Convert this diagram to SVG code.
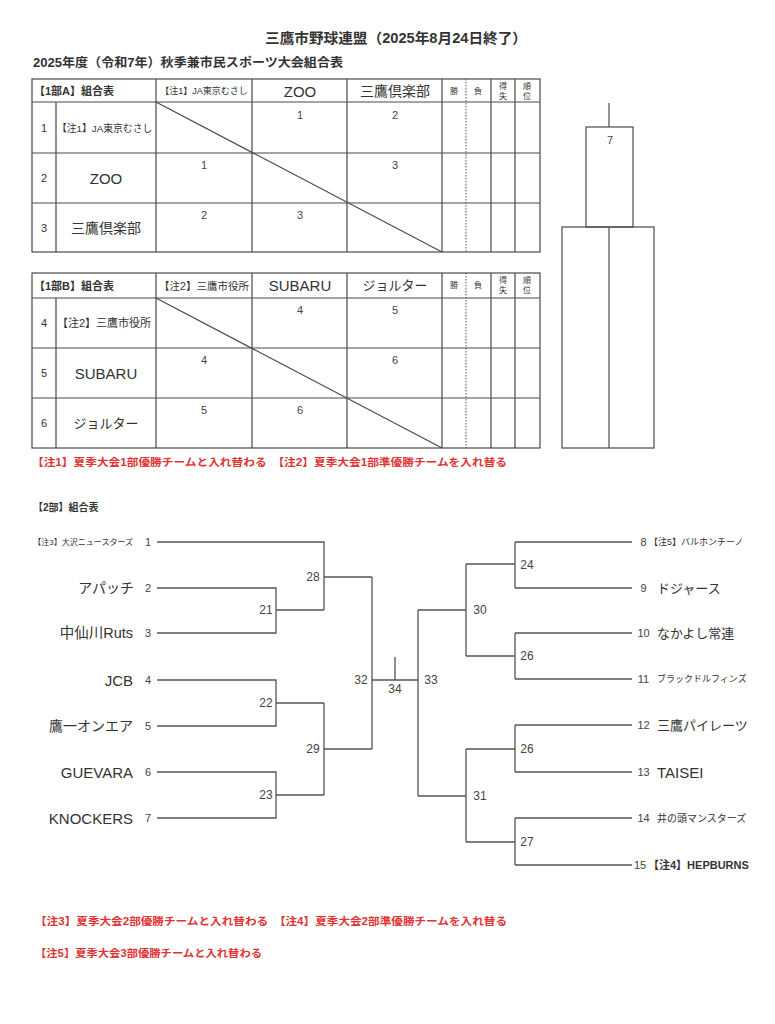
<svg xmlns="http://www.w3.org/2000/svg" width="775" height="1024" viewBox="0 0 775 1024">
<style>
text{font-family:"Liberation Sans","Noto Sans CJK JP",sans-serif;fill:#333;dominant-baseline:central}
.b{font-weight:bold}
.red{fill:#e03434;font-weight:bold;font-size:10.5px}
.m{text-anchor:middle}
.e{text-anchor:end}
.ln{fill:none;stroke:#4a4a4a;stroke-width:1.2}
.dot{fill:none;stroke:#555;stroke-width:1;stroke-dasharray:1.5 1.5}
.br{fill:none;stroke:#555;stroke-width:1.3}
.cn{font-size:11px;fill:#444}
.lb{font-size:12px;fill:#444}
.sm{font-size:9px}
</style>
<rect width="775" height="1024" fill="#fff"/>

<g id="title">
<text x="265" y="38" class="b" font-size="14" textLength="262" lengthAdjust="spacingAndGlyphs">三鷹市野球連盟（2025年8月24日終了）</text>
<text x="33" y="63" class="b" font-size="12.5" textLength="310" lengthAdjust="spacingAndGlyphs">2025年度（令和7年）秋季兼市民スポーツ大会組合表</text>
</g>

<g id="tableA">
<rect x="32" y="79" width="508" height="173" class="ln"/>
<path class="ln" d="M32 102H540M32 153H540M32 203H540M56 102V252M156 79V252M252 79V252M347 79V252M442 79V252M491 79V252M515 79V252"/>
<path class="dot" d="M466 79V252"/>
<path class="ln" d="M156 102L442 252"/>
<text x="34" y="91" class="b" font-size="11">【1部A】組合表</text>
<text x="204" y="91" class="m" font-size="9">【注1】JA東京むさし</text>
<text x="300" y="91" class="m" font-size="15">ZOO</text>
<text x="395" y="91" class="m" font-size="14">三鷹倶楽部</text>
<text x="454" y="91" class="m" font-size="8">勝</text>
<text x="478" y="91" class="m" font-size="8">負</text>
<text x="503" y="86" class="m" font-size="8">得</text>
<text x="503" y="96" class="m" font-size="8">失</text>
<text x="527" y="86" class="m" font-size="8">順</text>
<text x="527" y="96" class="m" font-size="8">位</text>
<text x="44" y="128" class="m" font-size="11">1</text>
<text x="44" y="178" class="m" font-size="11">2</text>
<text x="44" y="228" class="m" font-size="11">3</text>
<text x="57" y="128" font-size="9.8">【注1】JA東京むさし</text>
<text x="106" y="178" class="m" font-size="15">ZOO</text>
<text x="106" y="228" class="m" font-size="14">三鷹倶楽部</text>
<text x="300" y="115" class="m cn">1</text>
<text x="395" y="115" class="m cn">2</text>
<text x="204" y="165" class="m cn">1</text>
<text x="395" y="165" class="m cn">3</text>
<text x="204" y="215" class="m cn">2</text>
<text x="300" y="215" class="m cn">3</text>
</g>

<g id="tableB">
<rect x="32" y="273" width="508" height="175" class="ln"/>
<path class="ln" d="M32 298H540M32 348H540M32 398H540M56 298V448M156 273V448M252 273V448M347 273V448M442 273V448M491 273V448M515 273V448"/>
<path class="dot" d="M466 273V448"/>
<path class="ln" d="M156 298L442 448"/>
<text x="34" y="285.5" class="b" font-size="11">【1部B】組合表</text>
<text x="204" y="285.5" class="m" font-size="10.5">【注2】三鷹市役所</text>
<text x="300" y="285.5" class="m" font-size="15">SUBARU</text>
<text x="395" y="285.5" class="m" font-size="13">ジョルター</text>
<text x="454" y="285.5" class="m" font-size="8">勝</text>
<text x="478" y="285.5" class="m" font-size="8">負</text>
<text x="503" y="280.5" class="m" font-size="8">得</text>
<text x="503" y="290.5" class="m" font-size="8">失</text>
<text x="527" y="280.5" class="m" font-size="8">順</text>
<text x="527" y="290.5" class="m" font-size="8">位</text>
<text x="44" y="323" class="m" font-size="11">4</text>
<text x="44" y="373" class="m" font-size="11">5</text>
<text x="44" y="423" class="m" font-size="11">6</text>
<text x="57" y="323" font-size="11">【注2】三鷹市役所</text>
<text x="106" y="373" class="m" font-size="15">SUBARU</text>
<text x="106" y="423" class="m" font-size="13">ジョルター</text>
<text x="300" y="310" class="m cn">4</text>
<text x="395" y="310" class="m cn">5</text>
<text x="204" y="360" class="m cn">4</text>
<text x="395" y="360" class="m cn">6</text>
<text x="204" y="410" class="m cn">5</text>
<text x="300" y="410" class="m cn">6</text>
</g>

<g id="note1">
<text x="32" y="462" class="red" textLength="475" lengthAdjust="spacingAndGlyphs">【注1】夏季大会1部優勝チームと入れ替わる　【注2】夏季大会1部準優勝チームを入れ替る</text>
</g>

<g id="final1">
<path class="ln" d="M609 103V127M609 227V448"/>
<rect x="586" y="127" width="47" height="100" class="ln"/>
<rect x="562" y="227" width="92" height="221" class="ln"/>
<text x="610" y="140" class="m cn">7</text>
</g>

<text x="33" y="507" class="b" font-size="10">【2部】組合表</text>

<g id="connectors">
<path class="br" d="M157 542H324V610M157 588H276V633H157M276 610H324M324 577H372M157 680H276V726H157M276 703H324M157 772H276V818H157M276 795H324M324 703V795M324 749H372M372 577V749M372 680H418M395 657V680M418 610V796M418 610H466M418 796H466M466 564V656M466 564H515M466 656H515M515 542V588M515 542H632M515 588H632M515 633V679M515 633H632M515 679H632M466 749V842M466 749H515M466 842H515M515 725V772M515 725H632M515 772H632M515 818V865M515 818H632M515 865H632"/>
</g>

<g id="teams-left">
<text x="133" y="542" class="e" font-size="8">【注3】大沢ニュースターズ</text>
<text x="148" y="542" class="m cn">1</text>
<text x="134" y="588" class="e" font-size="14">アパッチ</text>
<text x="148" y="588" class="m cn">2</text>
<text x="133" y="633" class="e" font-size="14.5">中仙川Ruts</text>
<text x="148" y="633" class="m cn">3</text>
<text x="133" y="680" class="e" font-size="15">JCB</text>
<text x="148" y="680" class="m cn">4</text>
<text x="133" y="726" class="e" font-size="14">鷹一オンエア</text>
<text x="148" y="726" class="m cn">5</text>
<text x="133" y="772" class="e" font-size="15">GUEVARA</text>
<text x="148" y="772" class="m cn">6</text>
<text x="133" y="818" class="e" font-size="15">KNOCKERS</text>
<text x="148" y="818" class="m cn">7</text>
</g>

<g id="matches">
<text x="266" y="610" class="m lb">21</text>
<text x="313" y="577" class="m lb">28</text>
<text x="266" y="703" class="m lb">22</text>
<text x="266" y="795" class="m lb">23</text>
<text x="313" y="749" class="m lb">29</text>
<text x="361" y="680" class="m lb">32</text>
<text x="395" y="689" class="m lb">34</text>
<text x="431" y="680" class="m lb">33</text>
<text x="480" y="610" class="m lb">30</text>
<text x="480" y="796" class="m lb">31</text>
<text x="527" y="565" class="m lb">24</text>
<text x="527" y="656" class="m lb">26</text>
<text x="527" y="749" class="m lb">26</text>
<text x="527" y="842" class="m lb">27</text>
</g>

<g id="teams-right">
<text x="643.5" y="542" class="m cn">8</text>
<text x="649" y="542" font-size="9">【注5】バルホンチーノ</text>
<text x="643.5" y="588" class="m cn">9</text>
<text x="657" y="588" font-size="13">ドジャース</text>
<text x="643.5" y="633" class="m cn">10</text>
<text x="657" y="633" font-size="13">なかよし常連</text>
<text x="643.5" y="679" class="m cn">11</text>
<text x="657" y="679" font-size="9">ブラックドルフィンズ</text>
<text x="643.5" y="725" class="m cn">12</text>
<text x="657" y="725" font-size="13">三鷹パイレーツ</text>
<text x="643.5" y="772" class="m cn">13</text>
<text x="657" y="772" font-size="15">TAISEI</text>
<text x="643.5" y="818" class="m cn">14</text>
<text x="657" y="818" font-size="10">井の頭マンスターズ</text>
<text x="640" y="865" class="m cn">15</text>
<text x="648" y="865" font-size="11" class="b">【注4】HEPBURNS</text>
</g>

<g id="notes2">
<text x="35" y="921" class="red" textLength="472" lengthAdjust="spacingAndGlyphs">【注3】夏季大会2部優勝チームと入れ替わる　【注4】夏季大会2部準優勝チームを入れ替る</text>
<text x="35" y="953" class="red" textLength="227" lengthAdjust="spacingAndGlyphs">【注5】夏季大会3部優勝チームと入れ替わる</text>
</g>
</svg>
